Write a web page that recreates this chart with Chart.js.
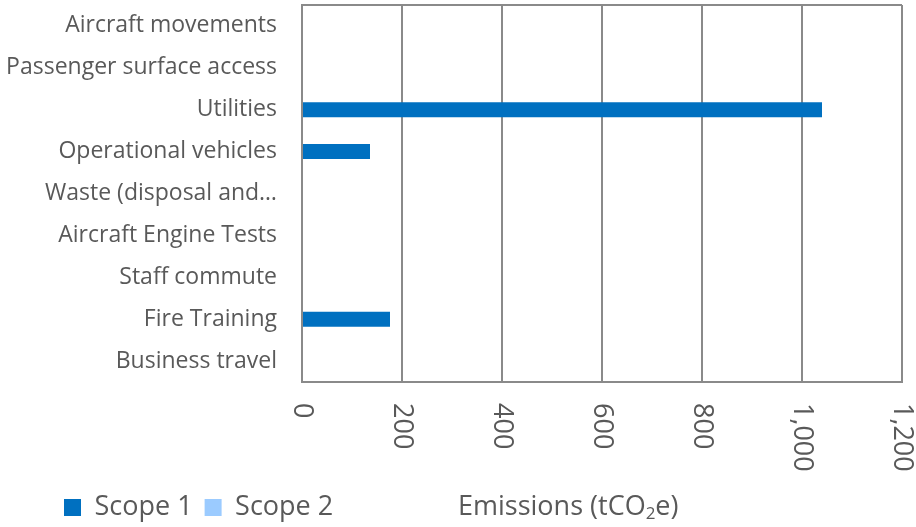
<!DOCTYPE html>
<html>
<head>
<meta charset="utf-8">
<script src="https://cdn.jsdelivr.net/npm/chart.js@4"></script>
<style>
  html, body { margin: 0; padding: 0; background: #fff; }
  #wrap { width: 916px; height: 527px; }
</style>
</head>
<body>
<div id="wrap"><canvas id="myChart"></canvas></div>
<script>
const categories = [
  'Aircraft movements',
  'Passenger surface access',
  'Utilities',
  'Operational vehicles',
  'Waste (disposal and\u2026',
  'Aircraft Engine Tests',
  'Staff commute',
  'Fire Training',
  'Business travel'
];
const scope1 = [0, 0, 1040, 136, 0, 0, 0, 176, 0];
const scope2 = [0, 0, 0, 0, 0, 0, 0, 0, 0];
const xMax = 1200;
const xStep = 200;

const textColor = '#595959';
const gridColor = '#8a8a8a';
const fontFamily = '"Open Sans", sans-serif';

// legend sits further right than the category labels
const legendShift = {
  id: 'legendShift',
  afterLayout(chart) {
    chart.legend.left += 52;
  }
};

// x tick labels are turned clockwise, so they are drawn here from the scale's own ticks
const rotatedTicks = {
  id: 'rotatedTicks',
  afterDraw(chart) {
    const ctx = chart.ctx;
    const xs = chart.scales.x;
    ctx.save();
    ctx.fillStyle = textColor;
    ctx.font = '27px ' + fontFamily;
    ctx.textAlign = 'left';
    ctx.textBaseline = 'middle';
    xs.ticks.forEach(function(t) {
      const px = xs.getPixelForValue(t.value);
      ctx.save();
      ctx.translate(px, chart.chartArea.bottom + 21);
      ctx.rotate(Math.PI / 2);
      ctx.fillText(t.label, 0, 0);
      ctx.restore();
    });
    // axis title with subscript, on the legend's line
    const hb = chart.legend.legendHitBoxes[0];
    const y = hb ? hb.top + hb.height / 2 : 508;
    let x = 458;
    ctx.font = '27px ' + fontFamily;
    const a = 'Emissions (tCO';
    ctx.fillText(a, x, y);
    x += ctx.measureText(a).width;
    ctx.font = '17px ' + fontFamily;
    ctx.fillText('2', x, y + 7);
    x += ctx.measureText('2').width;
    ctx.font = '27px ' + fontFamily;
    ctx.fillText('e)', x, y);
    ctx.restore();
  }
};

const data = {
  labels: categories,
  datasets: [
    {
      label: 'Scope 1',
      data: scope1,
      backgroundColor: '#0070C0',
      barThickness: 15,
      inflateAmount: 0
    },
    {
      label: 'Scope 2',
      data: scope2,
      backgroundColor: '#9BCBFF',
      barThickness: 15,
      inflateAmount: 0
    }
  ]
};

const config = {
  type: 'bar',
  data: data,
  options: {
    indexAxis: 'y',
    responsive: true,
    maintainAspectRatio: false,
    animation: false,
    layout: {
      padding: { top: 5, right: 14, bottom: -4, left: 0 }
    },
    plugins: {
      legend: {
        position: 'bottom',
        align: 'start',
        labels: {
          boxWidth: 17,
          boxHeight: 17,
          padding: 12,
          color: textColor,
          font: { family: fontFamily, size: 27 }
        }
      },
      tooltip: { enabled: false }
    },
    scales: {
      x: {
        stacked: true,
        min: 0,
        max: xMax,
        ticks: { stepSize: xStep, display: false },
        grid: { color: gridColor, lineWidth: 2, drawTicks: false },
        border: { display: true, color: gridColor, width: 2 },
        afterFit(scale) { scale.height = 100; }
      },
      y: {
        stacked: true,
        ticks: {
          color: textColor,
          padding: 25,
          autoSkip: false,
          font: { family: fontFamily, size: 23 }
        },
        grid: {
          drawTicks: false,
          lineWidth: 2,
          color: function(c) { return c.index === 0 ? gridColor : 'rgba(0,0,0,0)'; }
        },
        border: { display: true, color: gridColor, width: 2 },
        afterFit(scale) {
          scale.width = 302;
          scale.paddingTop = 0;
          scale.paddingBottom = 0;
        }
      }
    }
  },
  plugins: [legendShift, rotatedTicks]
};

const myChart = new Chart(document.getElementById('myChart').getContext('2d'), config);
</script>
</body>
</html>
